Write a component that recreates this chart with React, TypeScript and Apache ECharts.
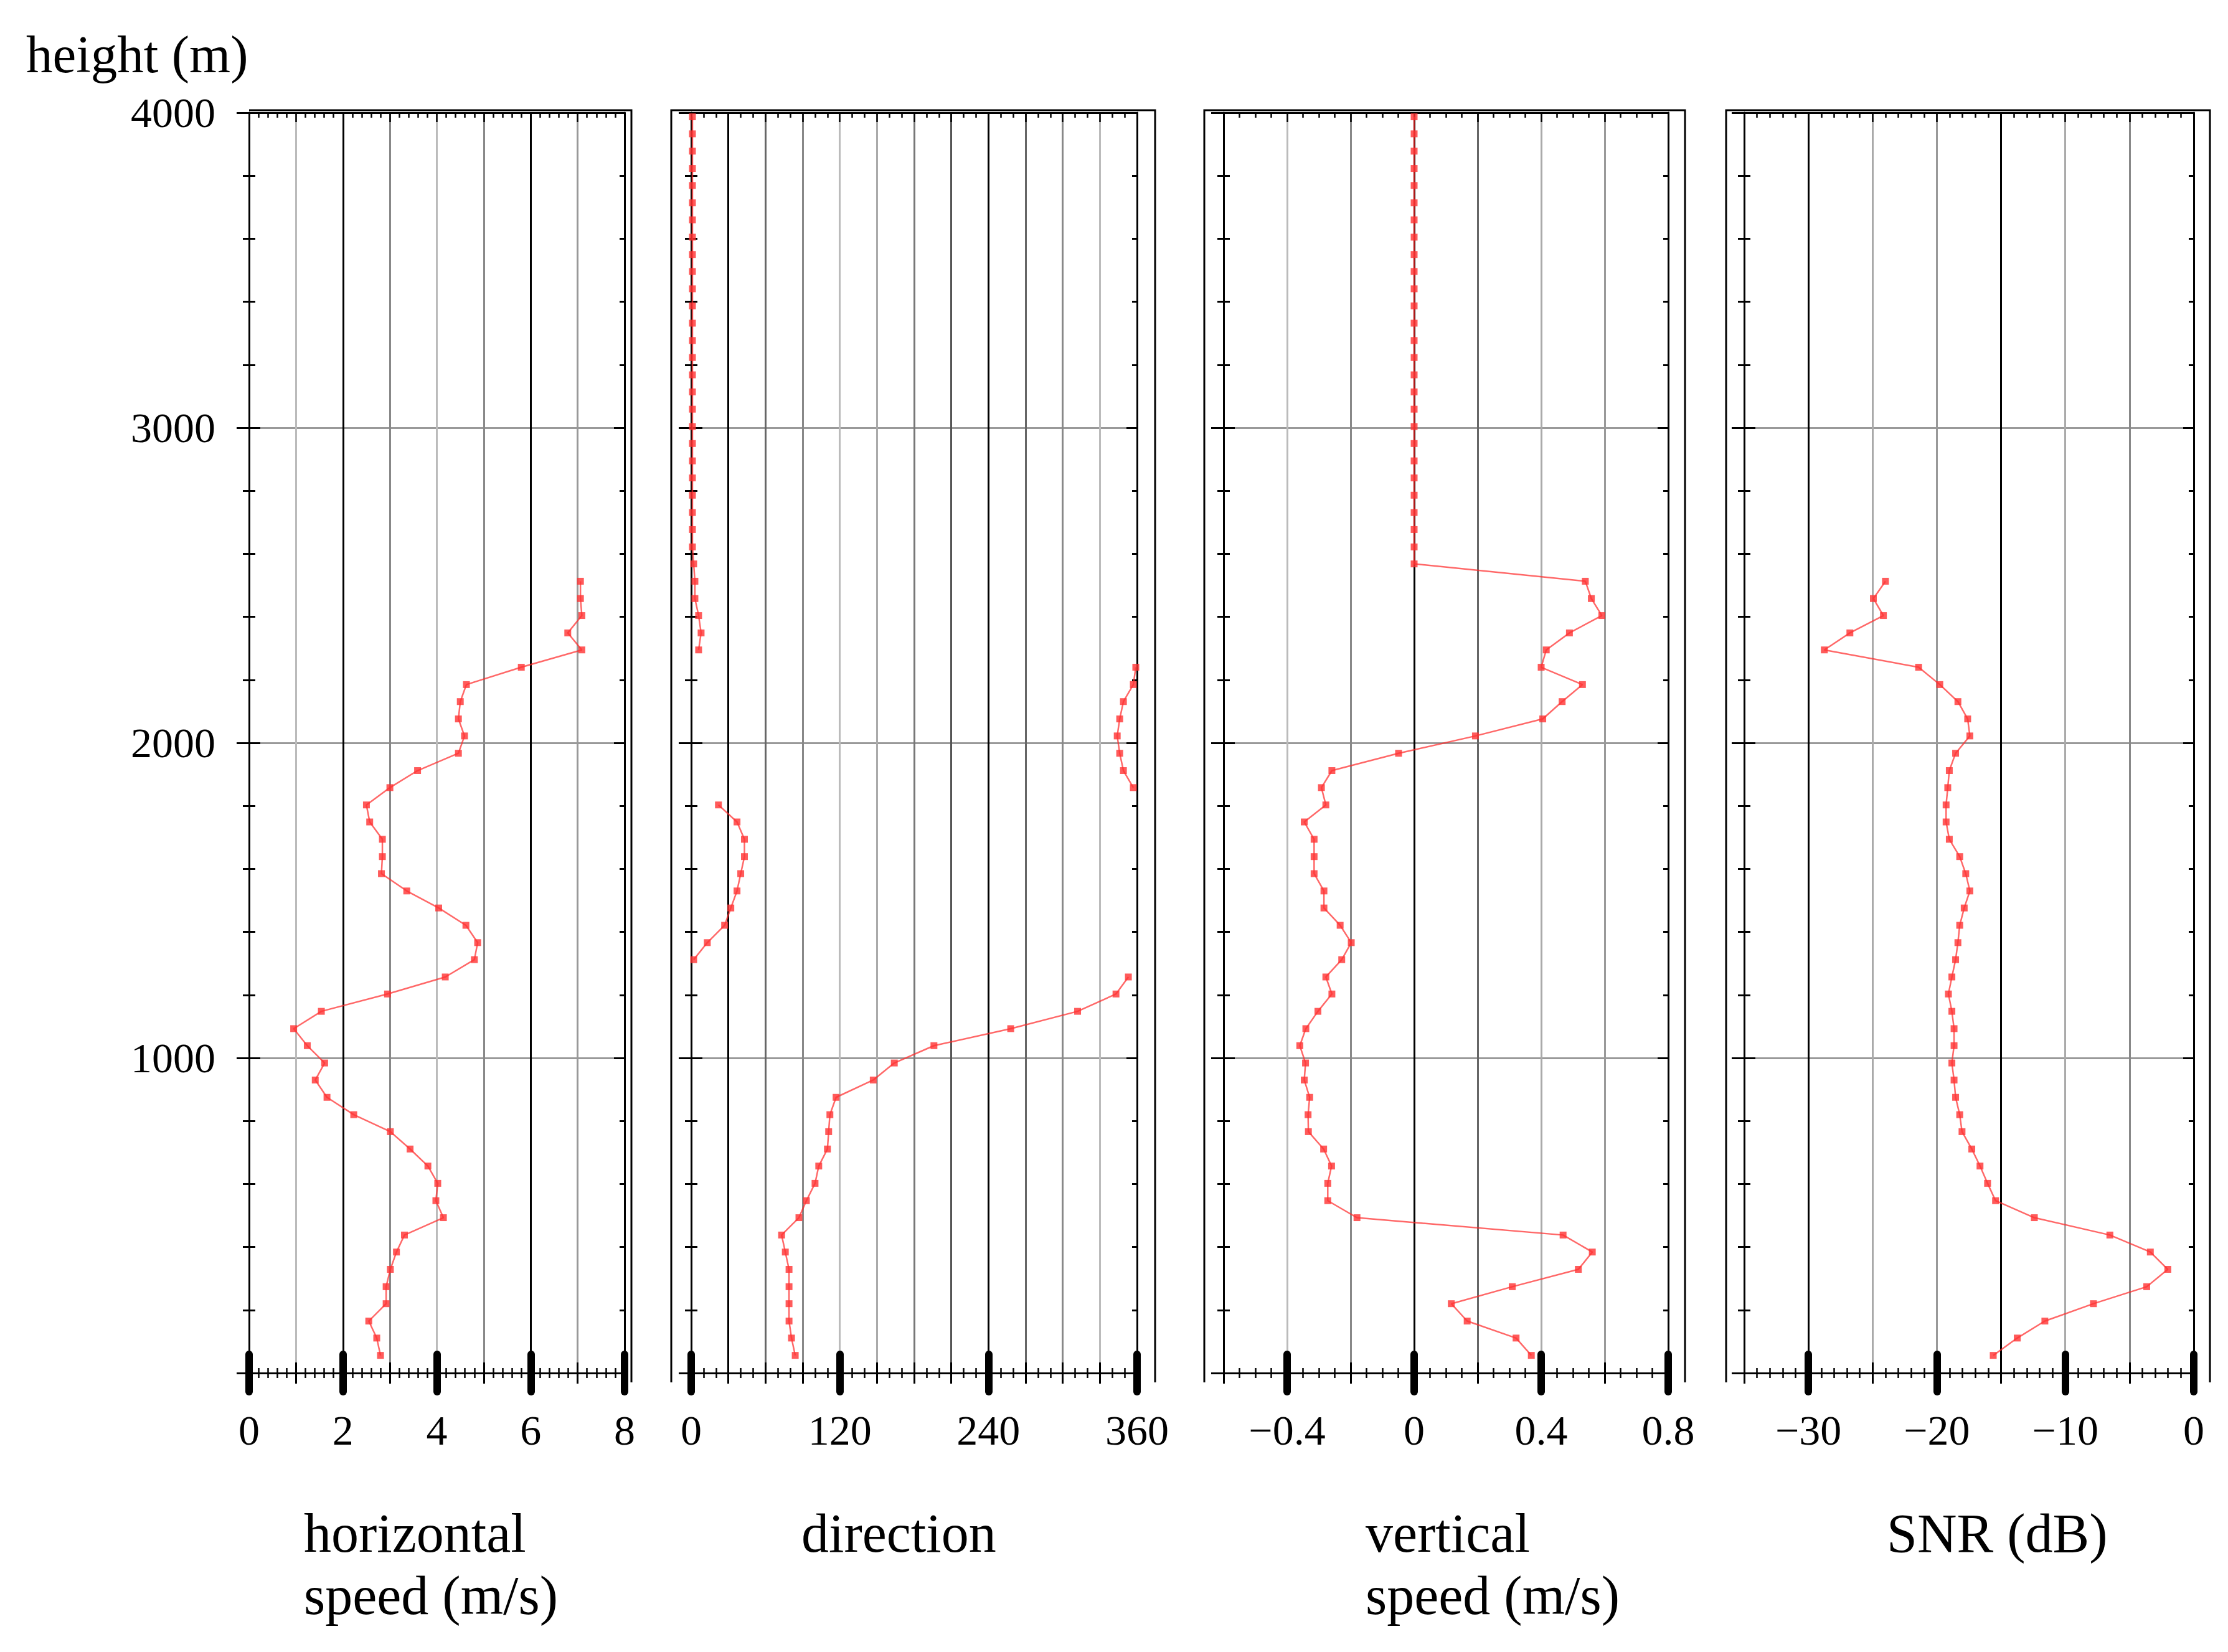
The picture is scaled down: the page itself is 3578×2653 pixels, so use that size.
import React, { useEffect, useRef } from "react";
import * as echarts from "echarts";

// ---------- data ----------
const heights = [
  56, 111, 165, 220, 274, 329, 384, 438, 493, 547, 602, 657, 711, 766, 820, 875, 930, 984, 1039, 1093,
  1148, 1203, 1257, 1312, 1366, 1421, 1476, 1530, 1585, 1639, 1694, 1749, 1803, 1858, 1912, 1967, 2022,
  2076, 2131, 2185, 2240, 2295, 2349, 2404, 2458, 2513, 2568, 2622, 2677, 2731, 2786, 2841, 2895, 2950,
  3004, 3059, 3114, 3168, 3223, 3277, 3332, 3387, 3441, 3496, 3550, 3605, 3660, 3714, 3769, 3823, 3878,
  3933, 3987,
];

const horizontalSpeed = [
  2.8, 2.72, 2.55, 2.92, 2.92, 3.01, 3.14, 3.31, 4.14, 3.98, 4.02, 3.81, 3.43, 3.01, 2.23, 1.66, 1.41,
  1.61, 1.24, 0.95, 1.54, 2.95, 4.18, 4.8, 4.87, 4.62, 4.04, 3.36, 2.82, 2.84, 2.84, 2.57, 2.5, 3.0, 3.59,
  4.46, 4.59, 4.46, 4.5, 4.63, 5.8, 7.09, 6.79, 7.09, 7.06, 7.06,
];

const direction = [
  84, 81, 79, 79, 79, 79, 76, 73, 87, 93, 100, 103, 110, 111, 112, 117, 147, 164, 196, 258, 312, 343, 353,
  2, 13, 27, 32, 37, 40, 43, 43, 37, 22, 357, 349, 346, 344, 346, 349, 357, 359, 6, 8, 6, 3, 3, 2, 1, 1, 1,
  1, 1, 1, 1, 1, 1, 1, 1, 1, 1, 1, 1, 1, 1, 1, 1, 1, 1, 1, 1, 1, 1, 1,
];

const verticalSpeed = [
  0.369, 0.321, 0.167, 0.117, 0.309, 0.517, 0.561, 0.469, -0.18, -0.272, -0.272, -0.26, -0.285, -0.333,
  -0.334, -0.329, -0.346, -0.342, -0.36, -0.341, -0.303, -0.259, -0.278, -0.228, -0.198, -0.233, -0.284,
  -0.284, -0.315, -0.315, -0.315, -0.346, -0.278, -0.292, -0.259, -0.049, 0.193, 0.405, 0.466, 0.53, 0.4,
  0.416, 0.489, 0.591, 0.558, 0.539, 0, 0, 0, 0, 0, 0, 0, 0, 0, 0, 0, 0, 0, 0, 0, 0, 0, 0, 0, 0, 0, 0, 0,
  0, 0, 0, 0,
];

const snr = [
  -15.61, -13.74, -11.59, -7.81, -3.66, -2.02, -3.38, -6.53, -12.41, -15.43, -16.05, -16.64, -17.28, -18.04,
  -18.22, -18.54, -18.66, -18.83, -18.66, -18.66, -18.83, -19.1, -18.83, -18.54, -18.36, -18.22, -17.87,
  -17.43, -17.75, -18.22, -19.03, -19.28, -19.28, -19.15, -19.03, -18.54, -17.43, -17.6, -18.36, -19.77,
  -21.42, -28.76, -26.77, -24.16, -24.94, -24.0,
];

const heightTickLabels = [1000, 2000, 3000, 4000];
const horizontalTicks = [0, 2, 4, 6, 8];
const directionTicks = [0, 120, 240, 360];
const verticalTicks = [-0.4, 0, 0.4, 0.8];
const snrTicks = [-30, -20, -10, 0];

const heightTitle = "height (m)";
const panelTitles = [["horizontal", "speed (m/s)"], ["direction"], ["vertical", "speed (m/s)"], ["SNR (dB)"]];

// ---------- layout / style ----------
const FONT = '"Liberation Serif", "Times New Roman", serif';
const TOP = 181;
const PLOT_H = 2024;
const FRAME_TOP = 177;
const FRAME_BOTTOM = 2220;

const panels = [
  {
    left: 400, width: 603, min: 0, max: 8, step: 1, minorSplit: 5, majors: horizontalTicks,
    values: horizontalSpeed, wrap: false, titleX: 488,
    shades: ["#000", "#bbb", "#000", "#888", "#bbb", "#888", "#000", "#999", "#000"],
    frame: [[400, FRAME_TOP], [1014, FRAME_TOP], [1014, FRAME_BOTTOM]],
  },
  {
    left: 1110, width: 716, min: 0, max: 360, step: 30, minorSplit: 3, majors: directionTicks,
    values: direction, wrap: true, titleX: 1287,
    shades: ["#000", "#000", "#666", "#888", "#bbb", "#aaa", "#777", "#555", "#000", "#666", "#888", "#bbb", "#000"],
    frame: [[1078, FRAME_BOTTOM], [1078, FRAME_TOP], [1855, FRAME_TOP], [1855, FRAME_BOTTOM]],
  },
  {
    left: 1965, width: 714, min: -0.6, max: 0.8, step: 0.2, minorSplit: 4, majors: verticalTicks,
    values: verticalSpeed, wrap: false, titleX: 2193,
    shades: ["#000", "#bbb", "#888", "#000", "#666", "#aaa", "#999", "#000"],
    frame: [[1934, FRAME_BOTTOM], [1934, FRAME_TOP], [2706, FRAME_TOP], [2706, FRAME_BOTTOM]],
  },
  {
    left: 2801, width: 722, min: -35, max: 0, step: 5, minorSplit: 5, majors: snrTicks,
    values: snr, wrap: false, titleX: 3030,
    shades: ["#000", "#000", "#aaa", "#999", "#000", "#aaa", "#888", "#000"],
    frame: [[2772, FRAME_BOTTOM], [2772, FRAME_TOP], [3549, FRAME_TOP], [3549, FRAME_BOTTOM]],
  },
];

const fmt = (v: number) => {
  const r = Math.round(v * 1000) / 1000;
  const s = String(Math.abs(r));
  return r < 0 ? "\u2212" + s : s;
};

function segmentsOf(values: number[], wrap: boolean) {
  const segs: number[][][] = [];
  let cur: number[][] = [];
  values.forEach((v, i) => {
    if (cur.length && wrap && Math.abs(v - cur[cur.length - 1][0]) > 180) {
      segs.push(cur);
      cur = [];
    }
    cur.push([v, heights[i]]);
  });
  if (cur.length) segs.push(cur);
  return segs;
}

export default function App() {
  const ref = useRef<HTMLDivElement>(null);
  useEffect(() => {
    document.body.style.margin = "0";
    const chart = echarts.init(ref.current!, null, { renderer: "svg" });
    const grid: any[] = [];
    const xAxis: any[] = [];
    const yAxis: any[] = [];
    const series: any[] = [];
    const graphic: any[] = [];
    const black = (w: number) => ({ color: "#000", width: w });

    panels.forEach((p, gi) => {
      grid.push({ left: p.left, top: TOP, width: p.width, height: PLOT_H });
      const xb = {
        gridIndex: gi, type: "value", min: p.min, max: p.max,
        axisLine: { show: false, onZero: false },
        axisLabel: { show: false }, splitLine: { show: false },
        axisTick: { show: false }, minorTick: { show: false },
      };
      const mainX = xAxis.length;
      xAxis.push({
        ...xb, position: "bottom", interval: p.step,
        axisLine: { show: true, onZero: false, lineStyle: black(3) },
        axisTick: { show: true, length: 17, lineStyle: black(3) },
        minorTick: { show: true, splitNumber: p.minorSplit, length: 8, lineStyle: black(2.5) },
        splitLine: { show: true, lineStyle: { color: p.shades, width: 3 } },
      });
      xAxis.push({
        ...xb, position: "bottom", interval: p.step,
        axisTick: { show: true, inside: true, length: 17, lineStyle: black(3) },
        minorTick: { show: true, splitNumber: p.minorSplit, length: 8, lineStyle: black(2.5) },
      });
      xAxis.push({
        ...xb, position: "bottom",
        axisTick: { show: true, customValues: p.majors, length: 30, lineStyle: { color: "#000", width: 12, cap: "round" } },
        axisLabel: {
          show: true, customValues: p.majors, margin: 58, fontSize: 68, fontFamily: FONT, color: "#000",
          formatter: (v: number) => fmt(v),
        },
      });
      xAxis.push({
        ...xb, position: "bottom",
        axisTick: { show: true, inside: true, customValues: p.majors, length: 30, lineStyle: { color: "#000", width: 12, cap: "round" } },
      });
      xAxis.push({
        ...xb, position: "top", interval: p.step,
        axisLine: { show: true, onZero: false, lineStyle: black(3) },
        axisTick: { show: true, inside: true, length: 15, lineStyle: black(2.5) },
        minorTick: { show: true, splitNumber: p.minorSplit, length: 8, lineStyle: black(2.5) },
      });

      const yb = {
        gridIndex: gi, type: "value", min: 0, max: 4000, interval: 1000,
        axisLine: { show: false, onZero: false },
        axisLabel: { show: false }, splitLine: { show: false },
        axisTick: { show: false }, minorTick: { show: false },
      };
      const mainY = yAxis.length;
      yAxis.push({
        ...yb, position: "left",
        axisLine: { show: true, onZero: false, lineStyle: black(3) },
        axisTick: { show: true, length: 20, lineStyle: black(3) },
        minorTick: { show: true, splitNumber: 5, length: 10, lineStyle: black(3) },
        splitLine: { show: true, lineStyle: { color: "#999", width: 3 } },
        axisLabel: gi === 0
          ? {
              show: true, margin: 54, fontSize: 68, fontFamily: FONT, color: "#000",
              formatter: (v: number) => (heightTickLabels.includes(v) ? String(v) : ""),
            }
          : { show: false },
      });
      yAxis.push({
        ...yb, position: "left",
        axisTick: { show: true, inside: true, length: 18, lineStyle: black(3) },
        minorTick: { show: true, splitNumber: 5, length: 10, lineStyle: black(3) },
      });
      yAxis.push({
        ...yb, position: "right",
        axisLine: { show: true, onZero: false, lineStyle: black(3) },
        axisTick: { show: true, inside: true, length: 17, lineStyle: black(3) },
        minorTick: { show: true, splitNumber: 5, length: 8, lineStyle: black(3) },
      });

      segmentsOf(p.values, p.wrap).forEach((seg) => {
        series.push({
          type: "line", xAxisIndex: mainX, yAxisIndex: mainY, data: seg,
          symbol: "rect", symbolSize: 11, showSymbol: true, silent: true,
          lineStyle: { color: "rgba(255,40,40,0.7)", width: 2.5 },
          itemStyle: { color: "rgba(255,50,50,0.8)" },
          z: 5,
        });
      });

      graphic.push({
        type: "polyline", silent: true,
        shape: { points: p.frame },
        style: { stroke: "#000", lineWidth: 3, fill: "none" },
      });
      panelTitles[gi].forEach((t, li) => {
        graphic.push({
          type: "text", silent: true, x: p.titleX, y: 2462 + li * 100,
          style: { text: t, font: `88px ${FONT}`, fill: "#000", align: "left", verticalAlign: "middle", textAlign: "left", textVerticalAlign: "middle" },
        });
      });
    });

    graphic.push({
      type: "text", silent: true, x: 42, y: 87,
      style: { text: heightTitle, font: `85px ${FONT}`, fill: "#000", align: "left", verticalAlign: "middle", textAlign: "left", textVerticalAlign: "middle" },
    });

    chart.setOption({
      animation: false,
      backgroundColor: "#fff",
      grid, xAxis, yAxis, series, graphic,
    });
    return () => chart.dispose();
  }, []);
  return <div ref={ref} style={{ position: "fixed", left: 0, top: 0, width: 3578, height: 2653 }} />;
}
